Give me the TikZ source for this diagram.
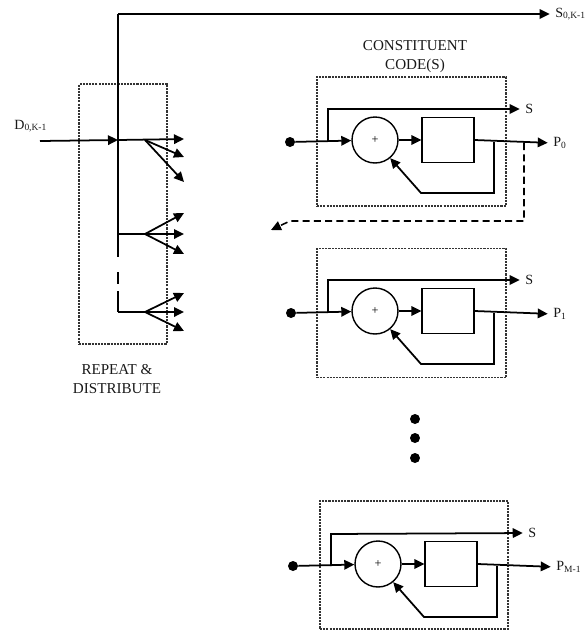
\documentclass[tikz,border=0pt]{standalone}
\usepackage{amsmath,amssymb}
\usepackage{fontspec}
\setmainfont{Liberation Serif}
\usetikzlibrary{arrows.meta}
\newcommand{\lowtext}[1]{\textsubscript{\fontsize{5.4}{6}\selectfont #1}}

\begin{document}
\begin{tikzpicture}[x=0.02cm,y=-0.02cm]
\tikzset{
  sumnode/.style={circle,draw,line width=0.8pt,minimum size=0.92cm,inner sep=0pt,font=\scriptsize},
  regnode/.style={rectangle,draw,line width=0.7pt,minimum width=1.04cm,minimum height=0.9cm,inner sep=0pt},
  dotnode/.style={circle,fill=black,minimum size=0.2cm,inner sep=0pt},
  dotbox/.style={rectangle,draw=black!80,line width=0.65pt,dash pattern=on 1.2pt off 0.6pt,inner sep=0pt},
  textlabel/.style={font=\fontsize{8.6}{10.8}\selectfont,align=center,text=black!90,inner sep=0pt},
  siglabel/.style={font=\footnotesize,anchor=west,text=black!90,inner sep=0pt},
  directed/.style={-{Triangle[length=2mm,width=1.9mm]},line width=1pt},
  undirected/.style={line width=1pt},
  labelled/.style={directed,shorten >=3pt},
  dashedflow/.style={-{Triangle[length=2mm,width=1.9mm]},line width=0.9pt,dash pattern=on 4pt off 2.4pt}
}
\useasboundingbox (0,0) rectangle (586,630);
% repeat and distribute
\node[dotbox,minimum width=1.76cm,minimum height=5.2cm] (n_rd) at (123,214) {};
\coordinate (c_top) at (118,14);
\coordinate (c_gapA) at (118,257);
\coordinate (c_gapB) at (118,272);
\coordinate (c_gapC) at (118,284);
\coordinate (c_gapD) at (118,291);
\coordinate (c_corner) at (118,312);
\coordinate (c_in) at (40,141);
\coordinate (c_jA) at (118,140);
\coordinate (c_jB) at (118,234);
\coordinate (c_fA) at (145,140);
\coordinate (c_fB) at (145,234);
\coordinate (c_fC) at (145,312);
\coordinate (c_aA) at (184,139);
\coordinate (c_aB) at (184,157);
\coordinate (c_aC) at (184,182);
\coordinate (c_bA) at (184,213);
\coordinate (c_bB) at (184,234);
\coordinate (c_bC) at (184,254);
\coordinate (c_dA) at (184,293);
\coordinate (c_dB) at (184,312);
\coordinate (c_dC) at (184,331);
\node[siglabel] (n_D) at (14,126) {D\lowtext{0,K-1}};
\node[siglabel] (n_Sout) at (555,14) {S\lowtext{0,K-1}};
\node[textlabel] (n_rdtext) at (117,379) {REPEAT \&\\DISTRIBUTE};
\node[textlabel] (n_cctext) at (415,57) {CONSTITUENT\\CODE(S)};
\draw[labelled] (c_top) -- (n_Sout.west);
\draw[undirected] (c_top) -- (c_gapA);
\draw[undirected] (c_gapB) -- (c_gapC);
\draw[undirected] (c_gapD) -- (c_corner);
\draw[directed] (c_in) -- (c_jA);
\draw[directed] (c_jA) -- (c_aA);
\draw[directed] (c_fA) -- (c_aB);
\draw[directed] (c_fA) -- (c_aC);
\draw[undirected] (c_jB) -- (c_fB);
\draw[directed] (c_fB) -- (c_bA);
\draw[directed] (c_fB) -- (c_bB);
\draw[directed] (c_fB) -- (c_bC);
\draw[undirected] (c_corner) -- (c_fC);
\draw[directed] (c_fC) -- (c_dA);
\draw[directed] (c_fC) -- (c_dB);
\draw[directed] (c_fC) -- (c_dC);
% first code
\node[dotbox,minimum width=3.78cm,minimum height=2.58cm] (n_boxA) at (411.5,141.5) {};
\node[dotnode] (n_inA) at (290,142) {};
\node[sumnode] (n_sumA) at (375,140) {+};
\node[regnode] (n_regA) at (448,140) {};
\node[siglabel] (n_SA) at (525,109) {S};
\node[siglabel] (n_PA) at (553,143) {P\lowtext{0}};
\coordinate (c_tapA) at (328,142);
\coordinate (c_upA) at (328,109);
\coordinate (c_fbA) at (494,142);
\coordinate (c_fbdA) at (494,193);
\coordinate (c_fblA) at (421,193);
\coordinate (c_dashA) at (524,143);
\coordinate (c_dashB) at (524,221);
\coordinate (c_dashC) at (290,221);
\coordinate (c_dashD) at (271,230);
\draw[directed] (n_inA) -- (n_sumA);
\draw[labelled] (c_tapA) -- (c_upA) -- (n_SA.west);
\draw[directed] (n_sumA) -- (n_regA);
\draw[labelled] (n_regA.east) -- (n_PA.west);
\draw[directed] (c_fbA) -- (c_fbdA) -- (c_fblA) -- (n_sumA.-50);
\draw[dashedflow] (c_dashA) -- (c_dashB) -- (c_dashC) -- (c_dashD);
% second code
\node[dotbox,minimum width=3.78cm,minimum height=2.58cm] (n_boxB) at (411.5,313) {};
\node[dotnode] (n_inB) at (291,313) {};
\node[sumnode] (n_sumB) at (375,311) {+};
\node[regnode] (n_regB) at (448,311) {};
\node[siglabel] (n_SB) at (525,280) {S};
\node[siglabel] (n_PB) at (553,314) {P\lowtext{1}};
\coordinate (c_tapB) at (328,313);
\coordinate (c_upB) at (328,280);
\coordinate (c_fbB) at (494,313);
\coordinate (c_fbdB) at (494,364);
\coordinate (c_fblB) at (421,364);
\draw[directed] (n_inB) -- (n_sumB);
\draw[labelled] (c_tapB) -- (c_upB) -- (n_SB.west);
\draw[directed] (n_sumB) -- (n_regB);
\draw[labelled] (n_regB.east) -- (n_PB.west);
\draw[directed] (c_fbB) -- (c_fbdB) -- (c_fblB) -- (n_sumB.-50);
% dots between
\node[dotnode] (n_dotA) at (415,419) {};
\node[dotnode] (n_dotB) at (415,438) {};
\node[dotnode] (n_dotC) at (415,458) {};
% last code
\node[dotbox,minimum width=3.76cm,minimum height=2.56cm] (n_boxC) at (414,565) {};
\node[dotnode] (n_inC) at (293,566) {};
\node[sumnode] (n_sumC) at (378,564) {+};
\node[regnode] (n_regC) at (451,564) {};
\node[siglabel] (n_SC) at (528,533) {S};
\node[siglabel] (n_PC) at (556,567) {P\lowtext{M-1}};
\coordinate (c_tapC) at (331,566);
\coordinate (c_upC) at (331,534);
\coordinate (c_fbC) at (497,566);
\coordinate (c_fbdC) at (497,617);
\coordinate (c_fblC) at (424,617);
\draw[directed] (n_inC) -- (n_sumC);
\draw[labelled] (c_tapC) -- (c_upC) -- (n_SC.west);
\draw[directed] (n_sumC) -- (n_regC);
\draw[labelled] (n_regC.east) -- (n_PC.west);
\draw[directed] (c_fbC) -- (c_fbdC) -- (c_fblC) -- (n_sumC.-50);
\end{tikzpicture}
\end{document}
